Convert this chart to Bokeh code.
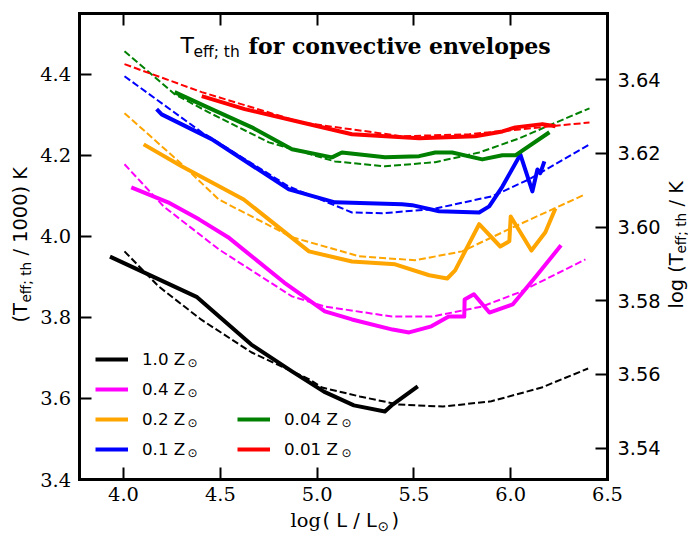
from math import pi, log10
from bokeh.plotting import figure
from bokeh.models import (Range1d, LinearAxis, FixedTicker, NumeralTickFormatter,
                          Legend, LegendItem, Label)
from bokeh.core.properties import value
from bokeh.embed import file_html
from bokeh.resources import INLINE

# ---------------- data ----------------
x_lim = (3.77, 6.5)
y_lim = (3.4, 4.55)

x_ticks = [4.0, 4.5, 5.0, 5.5, 6.0, 6.5]
x_tick_labels = ["4.0", "4.5", "5.0", "5.5", "6.0", "6.5"]
y_ticks = [3.4, 3.6, 3.8, 4.0, 4.2, 4.4]
y_tick_labels = ["3.4", "3.6", "3.8", "4.0", "4.2", "4.4"]
logt_ticks = [3.54, 3.56, 3.58, 3.60, 3.62, 3.64]
logt_tick_labels = ["3.54", "3.56", "3.58", "3.60", "3.62", "3.64"]

series_labels = ["1.0 Z", "0.4 Z", "0.2 Z", "0.1 Z", "0.04 Z", "0.01 Z"]
series_colors = ["#000000", "#ff00ff", "#ffa500", "#0000ff", "#008000", "#ff0000"]

z100_solid_x = [3.93, 4.38, 4.66, 4.87, 5.035, 5.19, 5.35, 5.39, 5.52]
z100_solid_y = [3.95, 3.85, 3.733, 3.667, 3.617, 3.583, 3.568, 3.585, 3.630]
z100_fit_x = [4.005, 4.18, 4.40, 4.66, 4.96, 5.025, 5.22, 5.42, 5.65, 5.90, 6.16, 6.40]
z100_fit_y = [3.963, 3.877, 3.795, 3.714, 3.647, 3.627, 3.605, 3.585, 3.580, 3.593, 3.627, 3.674]

z040_solid_x = [4.04, 4.23, 4.39, 4.54, 4.83, 5.04, 5.18, 5.39, 5.475, 5.59, 5.68, 5.76,
                5.762, 5.81, 5.89, 6.01, 6.13, 6.26]
z040_solid_y = [4.121, 4.084, 4.042, 3.998, 3.886, 3.815, 3.795, 3.770, 3.763, 3.778, 3.802,
                3.802, 3.844, 3.857, 3.812, 3.832, 3.901, 3.978]
z040_fit_x = [4.005, 4.207, 4.492, 4.870, 5.040, 5.387, 5.594, 5.853, 6.045, 6.386]
z040_fit_y = [4.178, 4.074, 3.968, 3.852, 3.827, 3.802, 3.802, 3.827, 3.862, 3.943]

z020_solid_x = [4.104, 4.300, 4.621, 4.958, 5.180, 5.403, 5.579, 5.672, 5.713, 5.837, 5.946,
                5.993, 6.000, 6.107, 6.179, 6.231]
z020_solid_y = [4.227, 4.173, 4.091, 3.963, 3.938, 3.931, 3.904, 3.896, 3.916, 4.030, 3.975,
                3.988, 4.049, 3.965, 4.010, 4.069]
z020_fit_x = [4.005, 4.290, 4.492, 4.870, 5.216, 5.506, 5.749, 6.024, 6.386]
z020_fit_y = [4.304, 4.183, 4.091, 3.998, 3.951, 3.941, 3.963, 4.025, 4.104]

z010_solid_x = [4.171, 4.197, 4.455, 4.854, 5.092, 5.439, 5.491, 5.630, 5.837, 5.889, 5.957,
                6.050, 6.112, 6.138, 6.153, 6.174]
z010_solid_y = [4.314, 4.301, 4.240, 4.116, 4.084, 4.079, 4.077, 4.062, 4.059, 4.074, 4.123,
                4.202, 4.111, 4.165, 4.156, 4.185]
z010_fit_x = [4.005, 4.404, 4.854, 5.180, 5.335, 5.594, 5.905, 6.096, 6.407]
z010_fit_y = [4.395, 4.257, 4.123, 4.059, 4.057, 4.067, 4.099, 4.141, 4.227]

z004_solid_x = [4.264, 4.455, 4.663, 4.870, 5.077, 5.128, 5.351, 5.527, 5.610, 5.698, 5.853,
                5.957, 6.024, 6.200]
z004_solid_y = [4.356, 4.314, 4.269, 4.215, 4.195, 4.207, 4.195, 4.198, 4.207, 4.207, 4.190,
                4.200, 4.200, 4.257]
z004_fit_x = [4.005, 4.264, 4.440, 4.751, 5.092, 5.351, 5.610, 5.837, 6.045, 6.200, 6.407]
z004_fit_y = [4.457, 4.351, 4.306, 4.232, 4.185, 4.173, 4.183, 4.207, 4.242, 4.274, 4.316]

z001_solid_x = [4.404, 4.626, 4.921, 5.180, 5.527, 5.817, 5.957, 6.024, 6.164, 6.231]
z001_solid_y = [4.346, 4.314, 4.281, 4.252, 4.242, 4.247, 4.259, 4.269, 4.277, 4.272]
z001_fit_x = [4.005, 4.404, 4.921, 5.439, 5.786, 6.045, 6.407]
z001_fit_y = [4.425, 4.356, 4.281, 4.247, 4.252, 4.264, 4.281]

solid_x = [z100_solid_x, z040_solid_x, z020_solid_x, z010_solid_x, z004_solid_x, z001_solid_x]
solid_y = [z100_solid_y, z040_solid_y, z020_solid_y, z010_solid_y, z004_solid_y, z001_solid_y]
fit_x = [z100_fit_x, z040_fit_x, z020_fit_x, z010_fit_x, z004_fit_x, z001_fit_x]
fit_y = [z100_fit_y, z040_fit_y, z020_fit_y, z010_fit_y, z004_fit_y, z001_fit_y]

# ---------------- layout ----------------
CW, CH = 688, 534                      # canvas size
F_L, F_R, F_T, F_B = 78.5, 607.0, 13.0, 479.0   # axes box inside the canvas (px)
MID = 0.35                              # baseline -> text middle, in em


def sx(ix):
    """canvas pixel x (from left) -> screen x"""
    return ix


def sy(iy):
    """canvas pixel y (from top) -> screen y (from bottom)"""
    return CH - iy


kx = (x_lim[1] - x_lim[0]) / (F_R - F_L)
ky = (y_lim[1] - y_lim[0]) / (F_B - F_T)
full_x = (x_lim[0] - F_L * kx, x_lim[1] + (CW - F_R) * kx)
full_y = (y_lim[0] - (CH - F_B) * ky, y_lim[1] + F_T * ky)
t_lim = (log10(y_lim[0] * 1000), log10(y_lim[1] * 1000))
kt = (t_lim[1] - t_lim[0]) / (F_B - F_T)
full_t = (t_lim[0] - (CH - F_B) * kt, t_lim[1] + F_T * kt)

SANS = "DejaVu Sans"
SERIF = "DejaVu Serif"
TICK = 19.4

p = figure(width=CW, height=CH, x_range=Range1d(*full_x), y_range=Range1d(*full_y),
           output_backend="svg", toolbar_location=None, title=None,
           min_border_left=0, min_border_right=0, min_border_top=0, min_border_bottom=0)
p.extra_y_ranges = {"logt": Range1d(*full_t)}
p.xgrid.visible = False
p.ygrid.visible = False
p.outline_line_color = None
p.background_fill_color = "white"
p.border_fill_color = "white"

top_axis = LinearAxis()
right_axis = LinearAxis(y_range_name="logt")
p.add_layout(top_axis, "above")
p.add_layout(right_axis, "right")

bottom_axis = p.below[0]
left_axis = p.left[0]

for ax in [bottom_axis, left_axis, top_axis, right_axis]:
    ax.axis_line_color = "black"
    ax.axis_line_width = 3
    ax.axis_line_cap = "square"
    ax.major_tick_in = 12
    ax.major_tick_out = 0
    ax.major_tick_line_width = 2
    ax.major_tick_line_color = "black"
    ax.minor_tick_line_color = None
    ax.axis_label = None
    ax.major_label_text_color = "black"

bottom_axis.fixed_location = y_lim[0]
bottom_axis.bounds = x_lim
bottom_axis.ticker = FixedTicker(ticks=x_ticks)
bottom_axis.formatter = NumeralTickFormatter(format="0.0")
bottom_axis.major_label_overrides = dict(zip(x_ticks, x_tick_labels))
bottom_axis.major_label_text_font = SERIF
bottom_axis.major_label_text_font_size = f"{TICK}px"
bottom_axis.major_label_standoff = 7

top_axis.fixed_location = y_lim[1]
top_axis.bounds = x_lim
top_axis.ticker = FixedTicker(ticks=[], minor_ticks=x_ticks)
top_axis.minor_tick_line_color = "black"
top_axis.minor_tick_line_width = 2
top_axis.minor_tick_in = 12
top_axis.minor_tick_out = 0

left_axis.fixed_location = x_lim[0]
left_axis.bounds = y_lim
left_axis.ticker = FixedTicker(ticks=y_ticks)
left_axis.formatter = NumeralTickFormatter(format="0.0")
left_axis.major_label_overrides = dict(zip(y_ticks, y_tick_labels))
left_axis.major_label_text_font = SERIF
left_axis.major_label_text_font_size = f"{TICK}px"
left_axis.major_label_standoff = 8

right_axis.fixed_location = x_lim[1]
right_axis.bounds = t_lim
right_axis.ticker = FixedTicker(ticks=logt_ticks)
right_axis.formatter = NumeralTickFormatter(format="0.00")
right_axis.major_label_overrides = dict(zip(logt_ticks, logt_tick_labels))
right_axis.major_label_text_font = SANS
right_axis.major_label_text_font_size = f"{TICK}px"
right_axis.major_label_standoff = 10

# ---------------- curves ----------------
solid_renderers = []
for i in range(len(series_labels)):
    r = p.line(solid_x[i], solid_y[i], line_color=series_colors[i], line_width=4,
               line_join="round")
    p.line(fit_x[i], fit_y[i], line_color=series_colors[i], line_width=2,
           line_dash="7 3")
    solid_renderers.append(r)

# ---------------- legends (two columns) ----------------
common = dict(orientation="vertical", glyph_width=33, glyph_height=30, spacing=0,
              padding=0, margin=0, label_standoff=14, label_text_font=SANS,
              label_text_font_size="16.7px", label_text_color="black",
              border_line_color=None, background_fill_alpha=0, label_height=20)
leg1 = Legend(items=[LegendItem(label=value(series_labels[i]), renderers=[solid_renderers[i]])
                     for i in range(4)],
              location=(sx(95), sy(463.5)), **common)
leg2 = Legend(items=[LegendItem(label=value(series_labels[i]), renderers=[solid_renderers[i]])
                     for i in range(4, 6)],
              location=(sx(237), sy(463.5)), **common)
p.add_layout(leg1)
p.add_layout(leg2)

odot_rows = [(187, 358.5), (187, 388.5), (187, 418.5), (187, 448.5), (341, 418.5), (341, 448.5)]
for ox, oy in odot_rows:
    p.add_layout(Label(x=sx(ox), y=sy(oy + 4), x_units="screen", y_units="screen", text="⊙",
                       text_font=SANS, text_font_size="12px", text_baseline="middle",
                       text_align="left", text_color="black"))


def lab(ix, iy, text, size, font=SANS, style="normal", rotated=False):
    """Place a text piece whose baseline starts at canvas pixel (ix, iy)."""
    if rotated:
        ax_, ay_, ang = ix - MID * size, iy, pi / 2
    else:
        ax_, ay_, ang = ix, iy - MID * size, 0.0
    p.add_layout(Label(x=sx(ax_), y=sy(ay_), x_units="screen", y_units="screen", text=text,
                       text_font=font, text_font_size=f"{size}px", text_font_style=style,
                       text_baseline="middle", text_align="left", angle=ang,
                       text_color="black"))


# title inside the axes box
lab(180, 53, "T", 22)
lab(193, 57, "eff; th", 15.5)
lab(248, 53, "for convective envelopes", 22, font=SERIF, style="bold")

# x axis label
lab(290, 527, "log", TICK, font=SERIF)
lab(322, 527, "( L / L", TICK)
lab(377, 530, "⊙", 13.6)
lab(391, 527, ")", TICK)

# left y axis label (rotated)
lab(26.5, 322, "(T", TICK, rotated=True)
lab(30.5, 302, "eff; th", 13.6, rotated=True)
lab(26.5, 255, "/ 1000) K", TICK, rotated=True)

# right y axis label (rotated), kept fully inside the canvas
lab(682.5, 308, "log (T", TICK, rotated=True)
lab(685.5, 253, "eff; th", 13.6, rotated=True)
lab(682.5, 206, "/ K", TICK, rotated=True)

open("out.html", "w").write(file_html(p, INLINE))
